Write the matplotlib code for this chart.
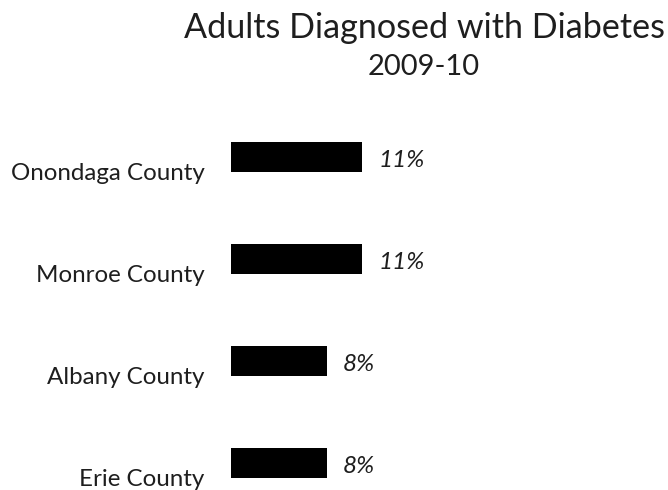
import matplotlib
matplotlib.use("Agg")
import matplotlib.pyplot as plt
from matplotlib.transforms import ScaledTranslation

counties = ["Onondaga County", "Monroe County", "Albany County", "Erie County"]
pct = [11, 11, 8, 8]

plt.rcParams['font.family'] = ['Lato', 'DejaVu Sans']

W, H = 668, 490
fig = plt.figure(figsize=(W / 100, H / 100), dpi=100)

# axes placed in pixel terms: zero of x at 231px, bars 102px apart
px_per_unit = 11.95
x0 = 231
xmax = 14
top = 106
ax = fig.add_axes([x0 / W, 0, xmax * px_per_unit / W, (H - top) / H])
ax.set_xlim(0, xmax)
ax.set_ylim(-0.5 + (H - top) / 102, -0.5)

ypos = list(range(len(counties)))
ax.barh(ypos, pct, height=0.29, color="black")

ax.set_yticks(ypos)
ax.set_yticklabels(counties, fontsize=17.4, color="#1e1e1e")
ax.tick_params(axis="y", length=0, pad=19)
ax.set_xticks([])
for lab in ax.get_yticklabels():
    lab.set_va("baseline")
    lab.set_transform(lab.get_transform() + ScaledTranslation(0, -23 / 100, fig.dpi_scale_trans))
for s in ax.spines.values():
    s.set_visible(False)

off = ScaledTranslation(16 / 100, -10 / 100, fig.dpi_scale_trans)
for y, v in zip(ypos, pct):
    ax.text(v, y, f"{v}%", style="italic", fontsize=17.5, color="#1e1e1e",
            va="baseline", ha="left", transform=ax.transData + off)

fig.text(424 / W, 1 - 38 / H, "Adults Diagnosed with Diabetes", fontsize=24.6,
         ha="center", va="baseline", color="#1e1e1e")
fig.text(424 / W, 1 - 75 / H, "2009-10", fontsize=21,
         ha="center", va="baseline", color="#1e1e1e")

fig.savefig("out.png", dpi=100)
